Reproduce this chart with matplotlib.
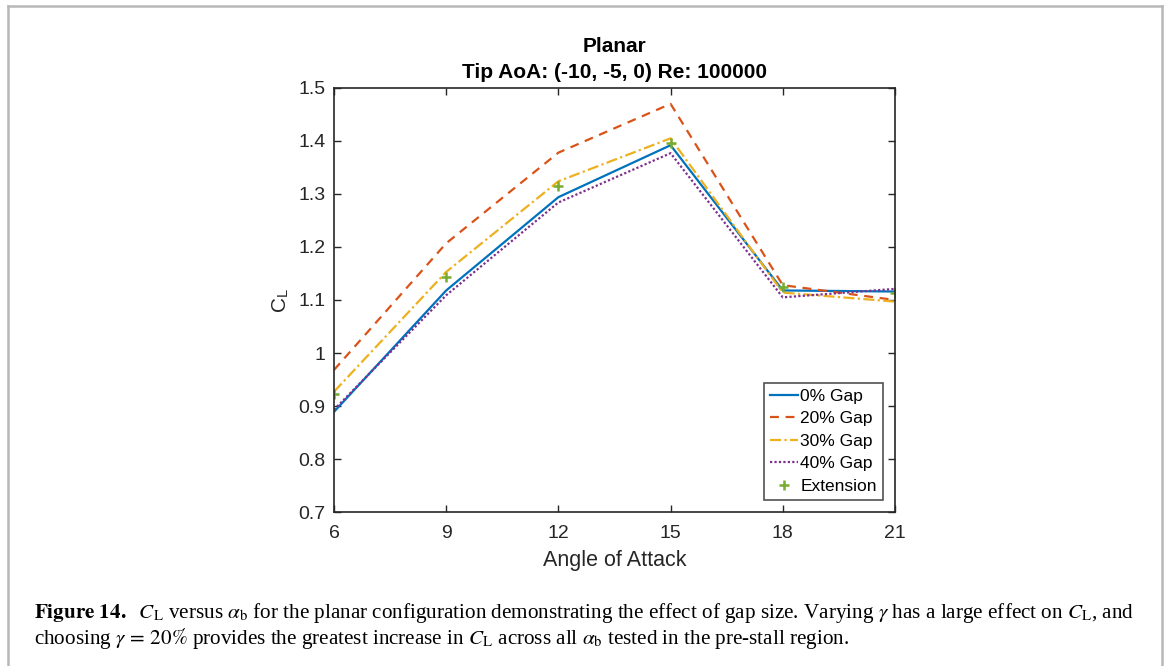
import matplotlib
matplotlib.use('Agg')
import matplotlib.pyplot as plt
from matplotlib.lines import Line2D

# angle of attack and lift coefficients for each gap size
aoa = [6, 9, 12, 15, 18, 21]
cl_gap0 = [0.889, 1.118, 1.294, 1.392, 1.118, 1.116]
cl_gap20 = [0.968, 1.207, 1.378, 1.470, 1.128, 1.100]
cl_gap30 = [0.927, 1.153, 1.324, 1.405, 1.114, 1.097]
cl_gap40 = [0.893, 1.109, 1.284, 1.377, 1.105, 1.121]
cl_ext = [0.922, 1.144, 1.315, 1.397, 1.125, 1.114]

plt.rcParams['font.family'] = 'Liberation Sans'
plt.rcParams['mathtext.fontset'] = 'stix'

fig = plt.figure(figsize=(11.67, 6.66), dpi=100)
ax = fig.add_axes([0.2862, 0.2312, 0.4807, 0.6367])

ax.plot(aoa, cl_gap0, color='#0072BD', lw=1.6, ls='-', label='0% Gap')
ax.plot(aoa, cl_gap20, color='#D95319', lw=1.6, ls=(0, (4, 3)), label='20% Gap')
ax.plot(aoa, cl_gap30, color='#EDB120', lw=1.6, ls=(0, (5, 1.5, 1, 1.5)), label='30% Gap')
ax.plot(aoa, cl_gap40, color='#7E2F8E', lw=1.6, ls=(0, (1, 1)), label='40% Gap')
ax.plot(aoa, cl_ext, color='#77AC30', ls='none', marker='+', ms=7, mew=1.8, label='Extension')

ax.set_xlim(6, 21)
ax.set_ylim(0.7, 1.5)
ax.set_xticks(aoa)
ax.set_yticks([0.7, 0.8, 0.9, 1.0, 1.1, 1.2, 1.3, 1.4, 1.5])
ax.set_yticklabels(['0.7', '0.8', '0.9', '1', '1.1', '1.2', '1.3', '1.4', '1.5'])
ax.tick_params(direction='in', top=True, right=True, length=5, width=1,
               labelsize=14, colors='#262626', labelcolor='#262626')
ax.tick_params(axis='x', pad=9)
ax.tick_params(axis='y', pad=6)
for s in ax.spines.values():
    s.set_color('#262626')
    s.set_linewidth(1.2)

ax.set_xlabel('Angle of Attack', fontsize=15.5, color='#262626', labelpad=6)
ax.set_ylabel(r'C$_{\mathregular{L}}$', fontsize=15, color='#262626', labelpad=5)
ax.set_title('Planar\nTip AoA: (-10, -5, 0) Re: 100000', fontsize=15,
             fontweight='bold', linespacing=1.5, pad=7)

leg = ax.legend(loc='lower right', fontsize=12.5, frameon=True, fancybox=False,
                edgecolor='#262626', handlelength=1.6, handletextpad=0.15,
                borderpad=0.35, labelspacing=0.42, borderaxespad=0.7)
leg.get_frame().set_linewidth(1.2)

# page frame around the figure
for xs, ys in [([0.0069, 0.0069], [0.0, 0.991]), ([0.0069, 0.9957], [0.991, 0.991]),
               ([0.9957, 0.9957], [0.0, 0.991])]:
    fig.add_artist(Line2D(xs, ys, transform=fig.transFigure, color='#b8b8b8', lw=1.8))

# caption
cap1 = (r'$\mathbf{Figure\ 14.}$  $C_{\mathrm{L}}$ versus $\alpha_{\mathrm{b}}$ for the planar '
        r'configuration demonstrating the effect of gap size. Varying $\gamma$ has a large '
        r'effect on $C_{\mathrm{L}}$, and')
cap2 = (r'choosing $\gamma\,=\,20\%$ provides the greatest increase in $C_{\mathrm{L}}$ across all '
        r'$\alpha_{\mathrm{b}}$ tested in the pre-stall region.')
fig.text(34 / 1167, 1 - 618 / 666, cap1, fontsize=15.2, family='Liberation Serif',
         va='baseline', ha='left')
fig.text(34 / 1167, 1 - 644 / 666, cap2, fontsize=15.2, family='Liberation Serif',
         va='baseline', ha='left')

fig.savefig('out.png', dpi=100)
